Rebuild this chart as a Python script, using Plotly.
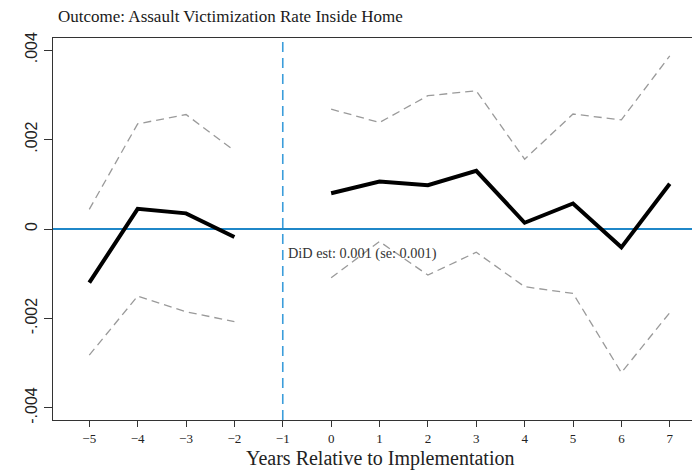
import plotly.graph_objects as go

# Event-time coefficients (years relative to implementation), split around the omitted year -1
years_pre = [-5, -4, -3, -2]
coef_pre = [-0.00120, 0.00045, 0.00035, -0.00018]
upper_pre = [0.00044, 0.00235, 0.00256, 0.00175]
lower_pre = [-0.00282, -0.00150, -0.00185, -0.00207]

years_post = [0, 1, 2, 3, 4, 5, 6, 7]
coef_post = [0.00080, 0.00106, 0.00098, 0.00130, 0.00014, 0.00057, -0.00041, 0.00101]
upper_post = [0.00268, 0.00238, 0.00298, 0.00309, 0.00156, 0.00257, 0.00244, 0.00387]
lower_post = [-0.00109, -0.00028, -0.00103, -0.00052, -0.00129, -0.00144, -0.00321, -0.00187]

x_ticks = list(range(-5, 8))
y_ticks = [-0.004, -0.002, 0, 0.002, 0.004]
y_tick_text = ["-.004", "-.002", "0", ".002", ".004"]

title_text = "Outcome: Assault Victimization Rate Inside Home"
x_title = "Years Relative to Implementation"
did_text = "DiD est: 0.001 (se: 0.001)"
did_pos = (-0.94, -0.00054)

SERIF = "Liberation Serif, Times New Roman, serif"
SANS = "Liberation Sans, Arial, sans-serif"
ci_style = dict(color="#9a9a9a", width=1.3, dash="8px,5px")
coef_style = dict(color="black", width=4)

fig = go.Figure()
for xs, lo, hi, est in [(years_pre, lower_pre, upper_pre, coef_pre),
                        (years_post, lower_post, upper_post, coef_post)]:
    fig.add_trace(go.Scatter(x=xs, y=hi, mode="lines", line=ci_style, hoverinfo="skip"))
    fig.add_trace(go.Scatter(x=xs, y=lo, mode="lines", line=ci_style, hoverinfo="skip"))
    fig.add_trace(go.Scatter(x=xs, y=est, mode="lines", line=coef_style))

# reference lines: zero effect and the omitted year
fig.add_shape(type="line", xref="paper", x0=0, x1=1, yref="y", y0=0, y1=0,
              line=dict(color="#1f87c8", width=2), layer="below")
fig.add_shape(type="line", xref="x", x0=-1, x1=-1, yref="paper", y0=0, y1=1,
              line=dict(color="#3b9ddb", width=1.6, dash="10px,6px"), layer="below")

fig.add_annotation(x=did_pos[0], y=did_pos[1], text=did_text, showarrow=False,
                   xanchor="left", yanchor="middle",
                   font=dict(family=SERIF, size=14.3, color="#333333"))
fig.add_annotation(x=1, xref="x", y=-0.0995, yref="paper", text=x_title, showarrow=False,
                   xanchor="center", yanchor="middle",
                   font=dict(family=SERIF, size=20, color="#222222"))
fig.add_annotation(x=0.004, xref="paper", y=1.055, yref="paper", text=title_text,
                   showarrow=False, xanchor="left", yanchor="middle",
                   font=dict(family=SERIF, size=17, color="#1a1a1a"))

fig.update_layout(
    width=692, height=470,
    margin=dict(l=53, r=0, t=38, b=50),
    paper_bgcolor="white", plot_bgcolor="white",
    showlegend=False,
    xaxis=dict(range=[-5.75, 7.46], tickvals=x_ticks, ticks="outside", ticklen=6,
               tickcolor="#333333", showline=True, linecolor="#333333", linewidth=1.3,
               mirror=True, showgrid=False, zeroline=False,
               tickfont=dict(family=SERIF, size=13, color="#222222")),
    yaxis=dict(range=[-0.00427, 0.00427], tickvals=y_ticks, ticktext=y_tick_text,
               ticks="outside", ticklen=8, tickcolor="#333333", tickangle=-90,
               showline=True, linecolor="#333333", linewidth=1.3,
               showgrid=False, zeroline=False,
               tickfont=dict(family=SANS, size=16, color="#222222")),
)

fig.write_html("out.html")
